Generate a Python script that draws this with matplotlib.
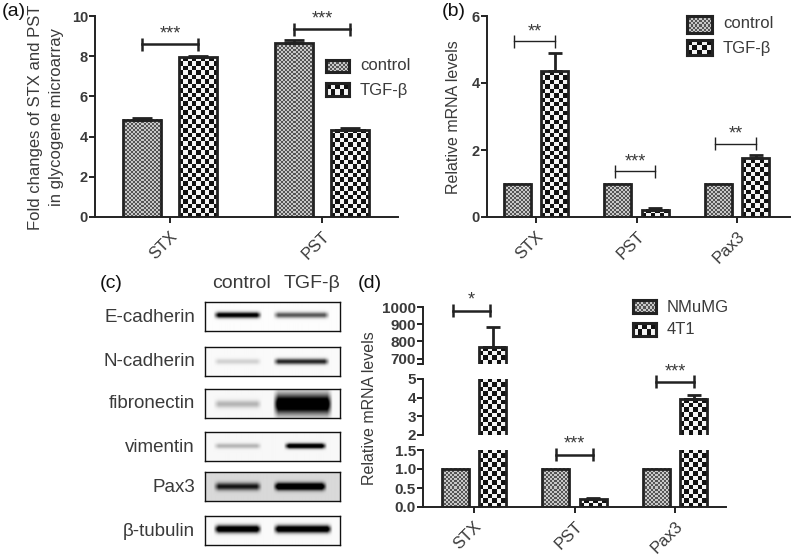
import numpy as np
import matplotlib
matplotlib.use('Agg')
import matplotlib.pyplot as plt

plt.rcParams['font.family'] = ['Liberation Sans', 'DejaVu Sans']

# panel a
a_groups = ['STX', 'PST']
a_control = [4.85, 8.65]
a_control_err = [0.08, 0.15]
a_tgf = [7.95, 4.35]
a_tgf_err = [0.05, 0.06]
a_stars = ['***', '***']
a_bracket_y = [8.6, 9.35]

# panel b
b_groups = ['STX', 'PST', 'Pax3']
b_control = [1, 1, 1]
b_tgf = [4.35, 0.22, 1.75]
b_tgf_err = [0.55, 0.05, 0.1]
b_stars = ['**', '***', '**']
b_bracket_y = [5.25, 1.37, 2.18]

# panel c, band darkness 0-1
blot_names = ['E-cadherin', 'N-cadherin', 'fibronectin', 'vimentin', 'Pax3', 'β-tubulin']
blot_control = [0.85, 0.12, 0.2, 0.2, 0.6, 0.97]
blot_tgf = [0.5, 0.65, 1.0, 0.95, 0.95, 0.97]
blot_background = [0.01, 0.02, 0.03, 0.03, 0.15, 0.02]

# panel d
d_groups = ['STX', 'PST', 'Pax3']
d_control = [1, 1, 1]
d_4t1 = [770, 0.2, 3.95]
d_4t1_err = [115, 0.03, 0.2]
d_stars = ['*', '***', '***']

W, H = 792, 558
DARK = '#222222'
TEXT = '#3a3a3a'
fig = plt.figure(figsize=(W / 100, H / 100), dpi=100)


def px_axes(left, top, right, bottom):
    ax = fig.add_axes([left / W, 1 - bottom / H, (right - left) / W, (bottom - top) / H])
    ax.patch.set_alpha(0)
    return ax


def fig_text(x, y, s, **kw):
    kw.setdefault('color', TEXT)
    kw.setdefault('va', 'center')
    return fig.text(x / W, 1 - y / H, s, **kw)


def checker(nx, ny):
    return (np.indices((ny, nx)).sum(axis=0) % 2).astype(float)


def fill_bar(ax, bar, cell, low='#111111', high='#f4f4f4'):
    # checker pattern drawn as an image inside the bar, cell size in pixels
    ymin, ymax = ax.get_ylim()
    y0, y1 = max(bar.get_y(), ymin), min(bar.get_y() + bar.get_height(), ymax)
    x0, x1 = bar.get_x(), bar.get_x() + bar.get_width()
    (p0, q0), (p1, q1) = ax.transData.transform([(x0, y0), (x1, y1)])
    nx = max(int(round((p1 - p0) / cell)), 1)
    ny = max(int(round((q1 - q0) / cell)), 1)
    xlim = ax.get_xlim()
    cmap = matplotlib.colors.LinearSegmentedColormap.from_list('c', [low, high])
    ax.imshow(checker(nx, ny), extent=(x0, x1, y0, y1), origin='lower', aspect='auto',
              cmap=cmap, interpolation='nearest', zorder=1, vmin=0, vmax=1)
    ax.set_xlim(xlim)
    ax.set_ylim(ymin, ymax)


def draw_bars(ax, xs, values, width, cell, lw, errs=None, low='#111111', high='#f4f4f4', cap=5):
    bars = ax.bar(xs, values, width, facecolor='none', edgecolor=DARK, linewidth=lw, zorder=3)
    for bar in bars:
        fill_bar(ax, bar, cell, low, high)
    if errs is not None:
        ax.errorbar(xs, values, yerr=[np.zeros(len(errs)), errs], fmt='none', ecolor=DARK,
                    elinewidth=lw, capsize=cap, capthick=lw, zorder=2)
    return bars


def style_axes(ax, size, lw=1.4):
    ax.spines['top'].set_visible(False)
    ax.spines['right'].set_visible(False)
    ax.spines['left'].set_linewidth(lw)
    ax.spines['bottom'].set_linewidth(lw)
    ax.spines['left'].set_color(DARK)
    ax.spines['bottom'].set_color(DARK)
    ax.tick_params(axis='y', length=4, width=lw, color=DARK, labelcolor=TEXT, labelsize=size, pad=1)
    for t in ax.get_yticklabels():
        t.set_fontweight('bold')


def x_labels(ax, xs, labels, size=12):
    ax.set_xticks(xs)
    ax.set_xticklabels(labels, rotation=45, ha='right', rotation_mode='anchor',
                       fontsize=size, color=TEXT)
    ax.tick_params(axis='x', length=4.5, width=1.4, color=DARK, pad=4)


def bracket(ax, x0, x1, y, stars, lw, star_gap=1):
    # cap height fixed in pixels so it is the same on every panel
    to_px = ax.transData.transform
    to_data = ax.transData.inverted().transform
    px = to_px((x0, y))
    ytop = to_data((px[0], px[1] + 6.5))[1]
    ybot = to_data((px[0], px[1] - 6.5))[1]
    ax.plot([x0, x1], [y, y], color=DARK, lw=lw, clip_on=False, zorder=4)
    ax.plot([x0, x0], [ybot, ytop], color=DARK, lw=lw, clip_on=False, zorder=4, solid_capstyle='butt')
    ax.plot([x1, x1], [ybot, ytop], color=DARK, lw=lw, clip_on=False, zorder=4, solid_capstyle='butt')
    ystar = to_data((px[0], px[1] + star_gap))[1]
    ax.text((x0 + x1) / 2, ystar, stars, ha='center', va='bottom', fontsize=13, color=TEXT, clip_on=False)


def swatch(left, top, right, bottom, cell, low='#111111', high='#f4f4f4'):
    ax = px_axes(left, top, right, bottom)
    nx, ny = int((right - left) / cell), max(int((bottom - top) / cell), 1)
    cmap = matplotlib.colors.LinearSegmentedColormap.from_list('c', [low, high])
    ax.imshow(checker(nx, ny), aspect='auto', cmap=cmap, interpolation='nearest', vmin=0, vmax=1)
    ax.set_xticks([])
    ax.set_yticks([])
    for s in ax.spines.values():
        s.set_linewidth(2.2)
        s.set_color(DARK)


FINE = 2
FINE_LOW = '#555555'
FINE_HIGH = '#c8c8c8'
COARSE = 4.4

# ---- (a)
ax = px_axes(95, 16, 398, 217)
ax.set_xlim(-0.493, 1.5)
ax.set_ylim(0, 10)
xs = np.arange(len(a_groups))
off, bw = 0.184, 0.25
draw_bars(ax, xs - off, a_control, bw, FINE, 2.0, a_control_err, FINE_LOW, FINE_HIGH, cap=7)
draw_bars(ax, xs + off, a_tgf, bw, COARSE, 2.0, a_tgf_err, cap=7)
for i in range(len(a_groups)):
    bracket(ax, xs[i] - off, xs[i] + off, a_bracket_y[i], a_stars[i], 1.8, star_gap=2)
ax.set_yticks([0, 2, 4, 6, 8, 10])
style_axes(ax, 10.5)
x_labels(ax, xs, a_groups)
fig_text(36, 117, 'Fold changes of STX and PST', rotation=90, ha='center', fontsize=12)
fig_text(57, 117, 'in glycogene microarray', rotation=90, ha='center', fontsize=12)
fig_text(2, 12, '(a)', fontsize=14, color='#111111')
swatch(326, 60, 349, 72, FINE, FINE_LOW, FINE_HIGH)
swatch(326, 83, 349, 96, COARSE)
fig_text(360, 66, 'control', fontsize=12)
fig_text(360, 90, 'TGF-β', fontsize=12)

# ---- (b)
ax = px_axes(487, 16, 790, 217)
xs = np.arange(len(b_groups))
ax.set_xlim((487 - 536) / 100.5, (790 - 536) / 100.5)
ax.set_ylim(0, 6)
off, bw = 0.187, 0.268
draw_bars(ax, xs - off, b_control, bw, FINE, 2.0, None, FINE_LOW, FINE_HIGH)
draw_bars(ax, xs + off, b_tgf, bw, COARSE, 2.0, b_tgf_err)
for i in range(len(b_groups)):
    bracket(ax, xs[i] - off - 0.03, xs[i] + off, b_bracket_y[i], b_stars[i], 1.0)
ax.set_yticks([0, 2, 4, 6])
style_axes(ax, 10.5)
x_labels(ax, xs, b_groups)
fig_text(453, 117, 'Relative mRNA levels', rotation=90, ha='center', fontsize=11.5)
fig_text(442, 12, '(b)', fontsize=14, color='#111111')
swatch(687, 16, 712, 33, FINE, FINE_LOW, FINE_HIGH)
swatch(687, 40, 712, 55, COARSE)
fig_text(723, 23, 'control', fontsize=12)
fig_text(723, 49, 'TGF-β', fontsize=12)

# ---- (c)
fig_text(100, 283, '(c)', fontsize=14, color='#111111')
fig_text(241.5, 284, 'control', ha='center', fontsize=14)
fig_text(311.5, 284, 'TGF-β', ha='center', fontsize=14)
blot_tops = [302, 347, 389, 432, 472, 516]
band_y = [0.45, 0.5, 0.52, 0.48, 0.5, 0.45]
band_thick = [0.1, 0.1, 0.13, 0.09, 0.13, 0.13]
tgf_left = [0.5, 0.5, 0.5, 0.58, 0.5, 0.5]
tgf_right = [0.92, 0.92, 0.94, 0.9, 0.9, 0.94]
for i, name in enumerate(blot_names):
    top = blot_tops[i]
    ax = px_axes(205, top, 340, top + 29)
    yy, xx = np.mgrid[0:1:58j, 0:1:270j]
    thick_t = band_thick[i] * (2.6 if name == 'fibronectin' else 1)
    mask_c = np.clip((xx - 0.06) / 0.04, 0, 1) * np.clip((0.42 - xx) / 0.04, 0, 1)
    mask_t = np.clip((xx - tgf_left[i]) / 0.04, 0, 1) * np.clip((tgf_right[i] - xx) / 0.04, 0, 1)
    band_c = blot_control[i] * mask_c * np.exp(-((yy - band_y[i]) / band_thick[i]) ** 2)
    band_t = blot_tgf[i] * mask_t * np.exp(-((yy - band_y[i]) / thick_t) ** 2)
    dark = np.clip(blot_background[i] + 1.3 * (band_c + band_t), 0, 1)
    ax.imshow(1 - dark, cmap='gray', vmin=0, vmax=1, aspect='auto', interpolation='bilinear')
    ax.set_xticks([])
    ax.set_yticks([])
    for s in ax.spines.values():
        s.set_linewidth(1.0)
        s.set_color('#111111')
    fig_text(195, top + 15, name, ha='right', fontsize=13.5)

# ---- (d) three stacked sections of one broken axis
L, R = 423, 726
top_ax = px_axes(L, 307.3, R, 364)
mid_ax = px_axes(L, 379, R, 435)
low_ax = px_axes(L, 450, R, 507)
xs = np.arange(len(d_groups))
off, bw = 0.187, 0.268
limits = [(668, 1000), (2, 5), (0, 1.5)]
ticks = [[668, 700, 800, 900, 1000], [2, 3, 4, 5], [0, 0.5, 1.0, 1.5]]
labels = [['', '700', '800', '900', '1000'], ['2', '3', '4', '5'], ['0.0', '0.5', '1.0', '1.5']]
for ax, lim, tk, lb in zip([top_ax, mid_ax, low_ax], limits, ticks, labels):
    ax.set_xlim((L - 474) / 100.5, (R - 474) / 100.5)
    ax.set_ylim(*lim)
    draw_bars(ax, xs - off, d_control, bw, FINE, 2.0, None, FINE_LOW, FINE_HIGH)
    draw_bars(ax, xs + off, d_4t1, bw, COARSE, 2.0, d_4t1_err)
    ax.set_yticks(tk)
    ax.set_yticklabels(lb)
    style_axes(ax, 11)
    if ax is not low_ax:
        ax.spines['bottom'].set_visible(False)
        ax.set_xticks([])
x_labels(low_ax, xs, d_groups)
bracket(top_ax, xs[0] - off - 0.02, xs[0] + off - 0.03, 980, d_stars[0], 1.8, star_gap=2)
bracket(low_ax, xs[1] - off, xs[1] + off, 1.38, d_stars[1], 1.8, star_gap=2)
bracket(mid_ax, xs[2] - off, xs[2] + off, 4.84, d_stars[2], 1.8, star_gap=2)
fig_text(369, 408, 'Relative mRNA levels', rotation=90, ha='center', fontsize=11.5)
fig_text(358, 283, '(d)', fontsize=14, color='#111111')
swatch(633, 300, 656, 313, FINE, FINE_LOW, FINE_HIGH)
swatch(633, 323, 656, 336, COARSE)
fig_text(667, 307, 'NMuMG', fontsize=12)
fig_text(667, 330, '4T1', fontsize=12)

fig.savefig('out.png', dpi=100)
